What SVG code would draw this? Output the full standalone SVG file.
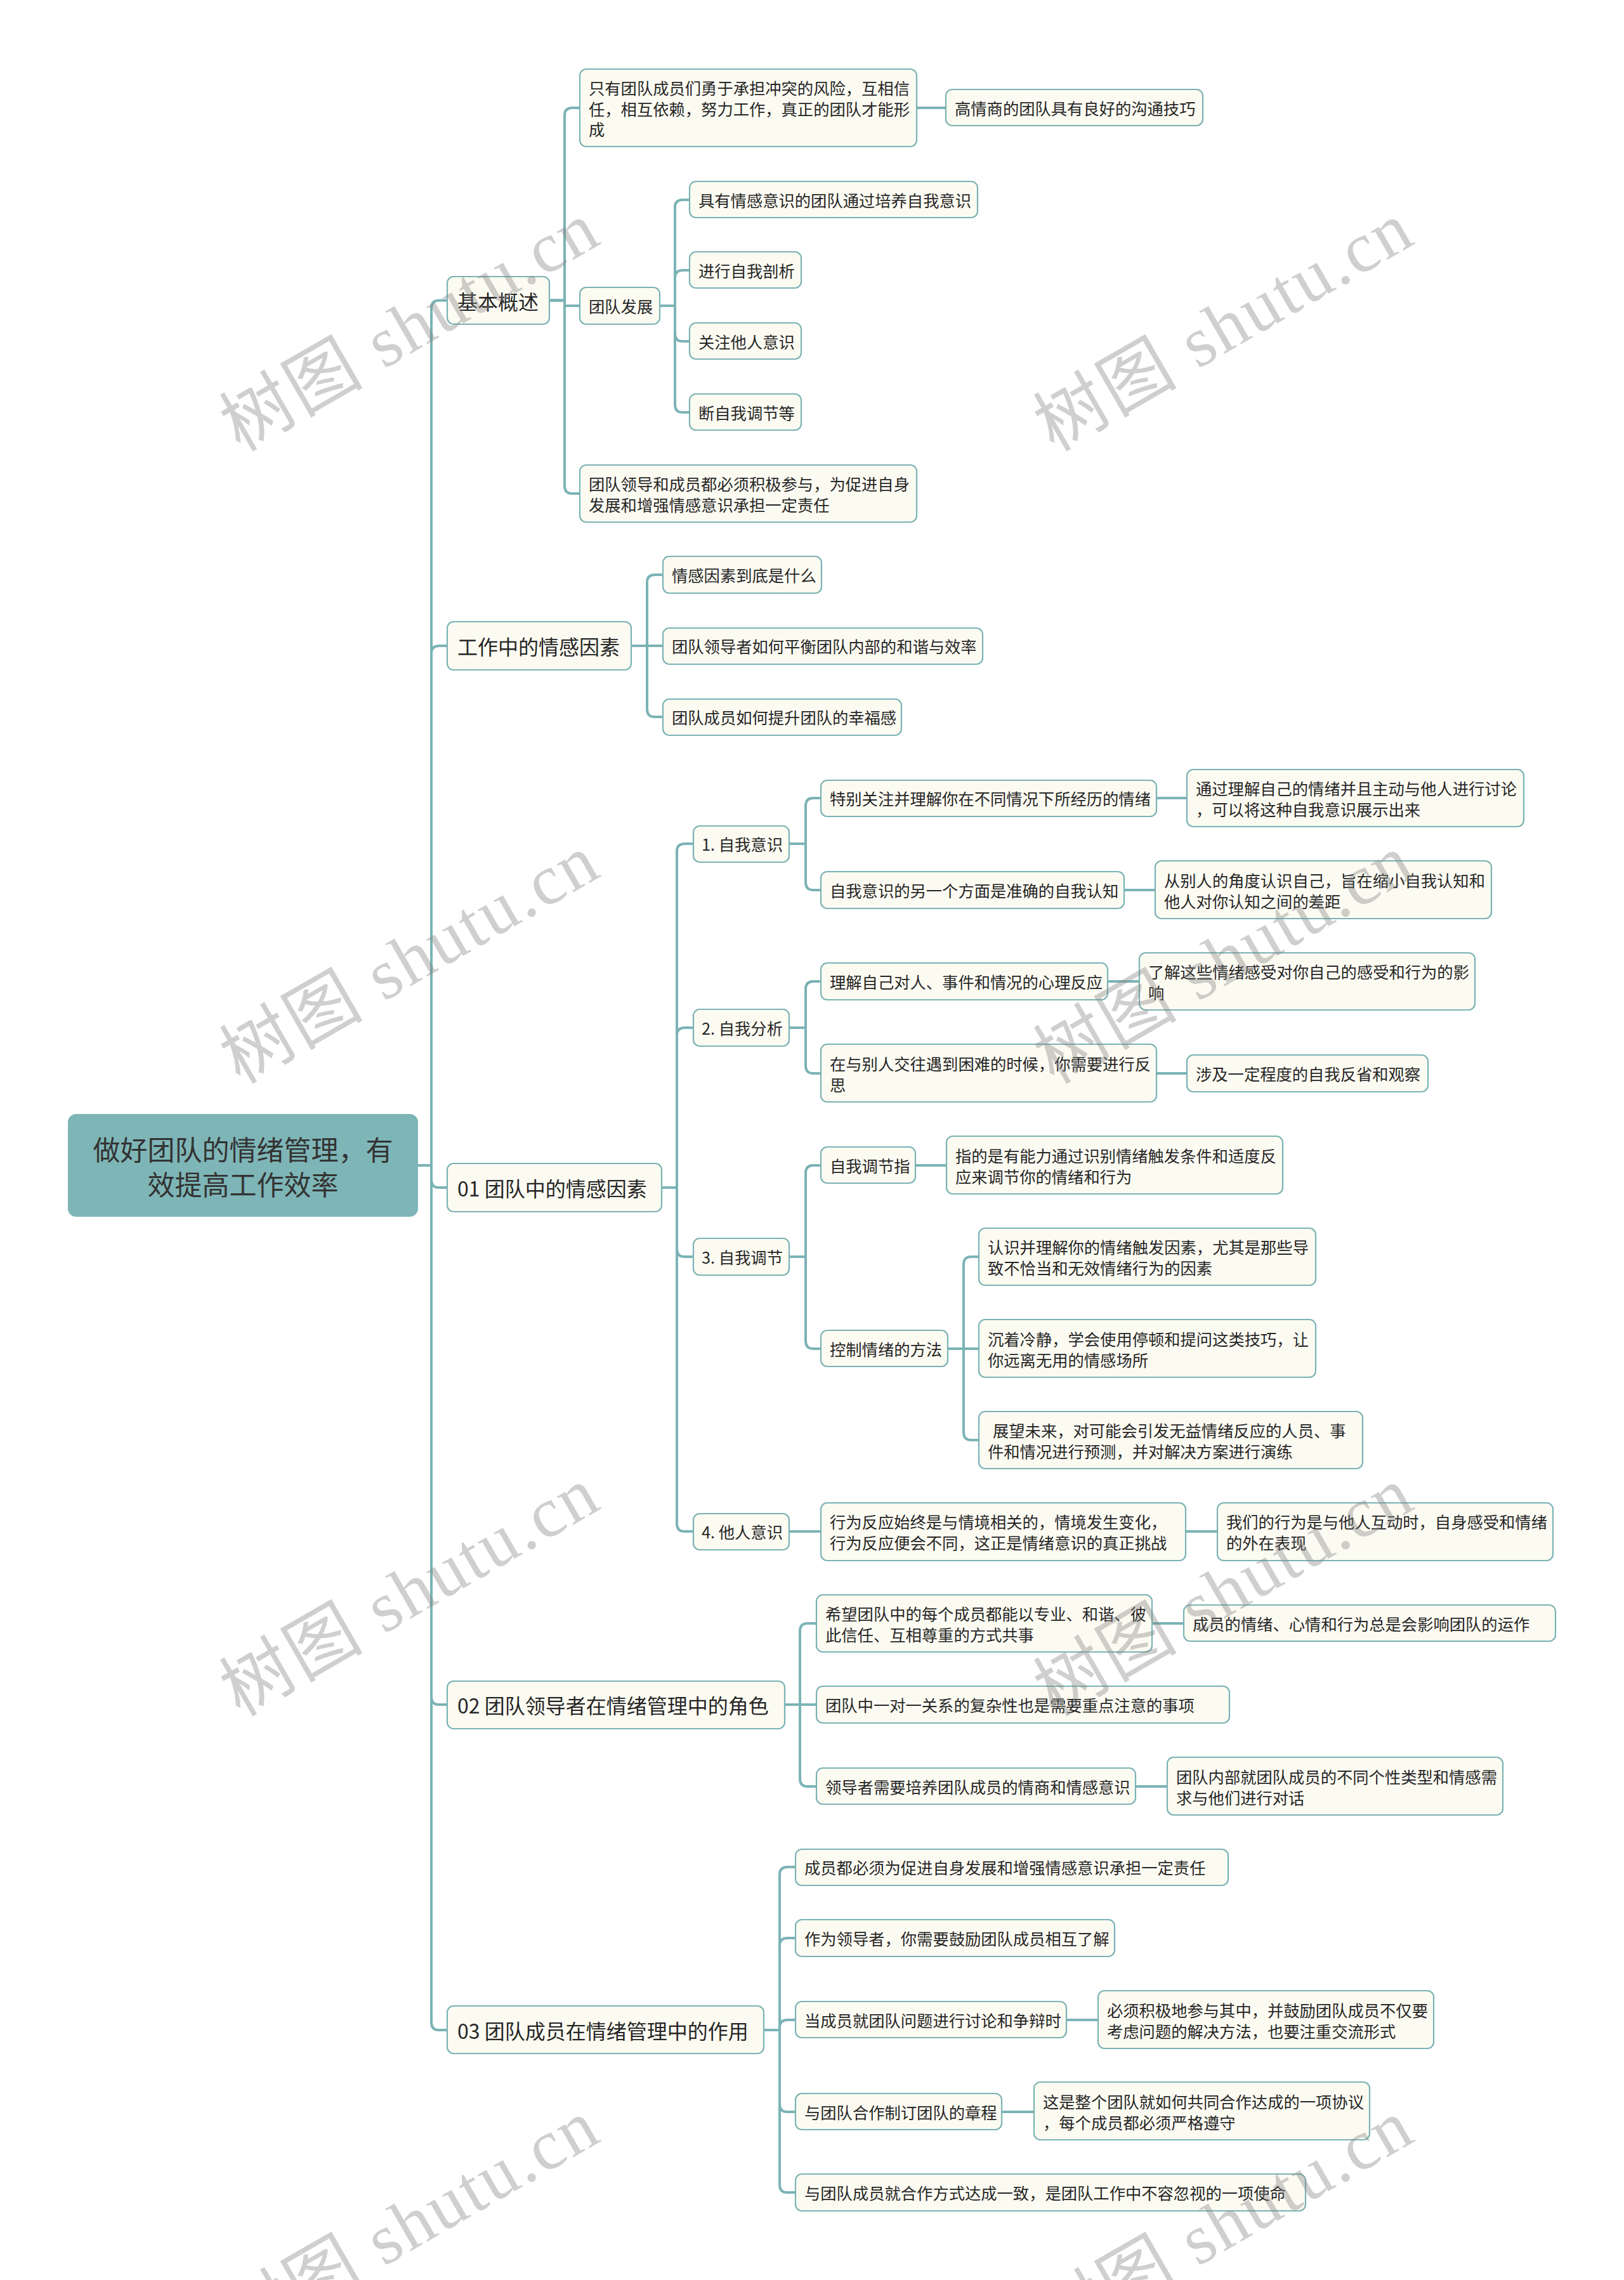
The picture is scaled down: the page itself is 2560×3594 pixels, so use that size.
<svg xmlns="http://www.w3.org/2000/svg" width="2560" height="3594" viewBox="0 0 2560 3594">
<style>
.bg{fill:#ffffff}
.n rect{fill:#fcfbf2;stroke:#7bb3b5;stroke-width:2.2}
.root rect{fill:#7eb5b7;stroke:#7eb5b7;stroke-width:2}
.t{font-family:"Noto Sans CJK SC","Liberation Sans",sans-serif;font-size:25.3px;fill:#262626;dominant-baseline:central}
.l1{font-size:32px}
.rt{font-size:43px;fill:#333333;text-anchor:middle}
.conn path{fill:none;stroke:#7bb3b5;stroke-width:4;stroke-linecap:round}
.wm{font-family:"Liberation Serif","Noto Sans CJK SC",serif;font-size:112px;fill:#808080;fill-opacity:0.38;text-anchor:middle;dominant-baseline:central}
</style>
<rect class="bg" x="0" y="0" width="2560" height="3594"/>

<g id="connectors" class="conn">
  <path d="M658,1837 H680"/>
  <path d="M658,1837 H680 V485.5 Q680,473.5 692,473.5 H705"/>
  <path d="M658,1837 H680 V1030 Q680,1018 692,1018 H705"/>
  <path d="M658,1837 H680 V1860 Q680,1872 692,1872 H705"/>
  <path d="M658,1837 H680 V2675 Q680,2687 692,2687 H705"/>
  <path d="M658,1837 H680 V3188 Q680,3200 692,3200 H705"/>
  <path d="M866,473.5 H890 V182 Q890,170 902,170 H914"/>
  <path d="M866,473.5 H890 V482 H914"/>
  <path d="M866,473.5 H890 V766 Q890,778 902,778 H914"/>
  <path d="M1445,170 H1491"/>
  <path d="M1040,482 H1064 V327 Q1064,315 1076,315 H1087"/>
  <path d="M1040,482 H1064 V438 Q1064,426 1076,426 H1087"/>
  <path d="M1040,482 H1064 V526 Q1064,538 1076,538 H1087"/>
  <path d="M1040,482 H1064 V638 Q1064,650 1076,650 H1087"/>
  <path d="M995,1018 H1020 V918 Q1020,906 1032,906 H1045"/>
  <path d="M995,1018 H1045"/>
  <path d="M995,1018 H1020 V1118 Q1020,1130 1032,1130 H1045"/>
  <path d="M1043,1872 H1067 V1342 Q1067,1330 1079,1330 H1093"/>
  <path d="M1043,1872 H1067 V1632 Q1067,1620 1079,1620 H1093"/>
  <path d="M1043,1872 H1067 V1969 Q1067,1981 1079,1981 H1093"/>
  <path d="M1043,1872 H1067 V2402 Q1067,2414 1079,2414 H1093"/>
  <path d="M1244,1330 H1270 V1270 Q1270,1258 1282,1258 H1294"/>
  <path d="M1244,1330 H1270 V1391 Q1270,1403 1282,1403 H1294"/>
  <path d="M1823,1258 H1871"/>
  <path d="M1772,1403 H1821"/>
  <path d="M1244,1620 H1270 V1559 Q1270,1547 1282,1547 H1294"/>
  <path d="M1244,1620 H1270 V1680 Q1270,1692 1282,1692 H1294"/>
  <path d="M1746,1547 H1796"/>
  <path d="M1823,1692 H1871"/>
  <path d="M1244,1981 H1270 V1849 Q1270,1837 1282,1837 H1294"/>
  <path d="M1244,1981 H1270 V2114 Q1270,2126 1282,2126 H1294"/>
  <path d="M1443,1837 H1492"/>
  <path d="M1494,2126 H1519 V1993 Q1519,1981 1531,1981 H1543"/>
  <path d="M1494,2126 H1543"/>
  <path d="M1494,2126 H1519 V2258 Q1519,2270 1531,2270 H1543"/>
  <path d="M1244,2414 H1294"/>
  <path d="M1869,2414 H1919"/>
  <path d="M1237,2687 H1261 V2571 Q1261,2559 1273,2559 H1287"/>
  <path d="M1237,2687 H1287"/>
  <path d="M1237,2687 H1261 V2804 Q1261,2816 1273,2816 H1287"/>
  <path d="M1816,2559 H1866"/>
  <path d="M1790,2816 H1840"/>
  <path d="M1204,3200 H1229 V2955 Q1229,2943 1241,2943 H1254"/>
  <path d="M1204,3200 H1229 V3067 Q1229,3055 1241,3055 H1254"/>
  <path d="M1204,3200 H1229 V3196 Q1229,3184 1241,3184 H1254"/>
  <path d="M1204,3200 H1229 V3317 Q1229,3329 1241,3329 H1254"/>
  <path d="M1204,3200 H1229 V3444 Q1229,3456 1241,3456 H1254"/>
  <path d="M1681,3184 H1731"/>
  <path d="M1579,3329 H1630"/>
</g>

<g id="root" class="root"><rect x="108" y="1757" width="550" height="160" rx="12"/>
  <text class="t rt"><tspan x="383" y="1810">做好团队的情绪管理，有</tspan><tspan x="383" y="1865">效提高工作效率</tspan></text></g>

<g id="n-jbgs" class="n"><rect x="705" y="436" width="161" height="75" rx="10"/><text class="t l1" x="721" y="473.5">基本概述</text></g>
<g id="n-gzz" class="n"><rect x="705" y="980" width="290" height="76" rx="10"/><text class="t l1" x="721" y="1018">工作中的情感因素</text></g>
<g id="n-01" class="n"><rect x="705" y="1834" width="338" height="76" rx="10"/><text class="t l1" x="721" y="1872">01 团队中的情感因素</text></g>
<g id="n-02" class="n"><rect x="705" y="2650" width="532" height="75" rx="10"/><text class="t l1" x="721" y="2687">02 团队领导者在情绪管理中的角色</text></g>
<g id="n-03" class="n"><rect x="705" y="3162" width="499" height="75" rx="10"/><text class="t l1" x="721" y="3200">03 团队成员在情绪管理中的作用</text></g>

<g id="n-a" class="n"><rect x="914" y="109" width="531" height="122" rx="10"/><text class="t"><tspan x="928" y="138">只有团队成员们勇于承担冲突的风险，互相信</tspan><tspan x="928" y="171">任，相互依赖，努力工作，真正的团队才能形</tspan><tspan x="928" y="203">成</tspan></text></g>
<g id="n-a1" class="n"><rect x="1491" y="141" width="405" height="57" rx="10"/><text class="t" x="1505" y="170">高情商的团队具有良好的沟通技巧</text></g>
<g id="n-b" class="n"><rect x="914" y="453" width="126" height="58" rx="10"/><text class="t" x="928" y="482">团队发展</text></g>
<g id="n-b1" class="n"><rect x="1087" y="286" width="454" height="57" rx="10"/><text class="t" x="1101" y="315">具有情感意识的团队通过培养自我意识</text></g>
<g id="n-b2" class="n"><rect x="1087" y="397" width="176" height="57" rx="10"/><text class="t" x="1101" y="426">进行自我剖析</text></g>
<g id="n-b3" class="n"><rect x="1087" y="509" width="176" height="57" rx="10"/><text class="t" x="1101" y="538">关注他人意识</text></g>
<g id="n-b4" class="n"><rect x="1087" y="621" width="176" height="57" rx="10"/><text class="t" x="1101" y="650">断自我调节等</text></g>
<g id="n-c" class="n"><rect x="914" y="733" width="531" height="90" rx="10"/><text class="t"><tspan x="928" y="762">团队领导和成员都必须积极参与，为促进自身</tspan><tspan x="928" y="795">发展和增强情感意识承担一定责任</tspan></text></g>

<g id="n-d1" class="n"><rect x="1045" y="877" width="250" height="58" rx="10"/><text class="t" x="1059" y="906">情感因素到底是什么</text></g>
<g id="n-d2" class="n"><rect x="1045" y="990" width="504" height="57" rx="10"/><text class="t" x="1059" y="1018">团队领导者如何平衡团队内部的和谐与效率</text></g>
<g id="n-d3" class="n"><rect x="1045" y="1102" width="376" height="57" rx="10"/><text class="t" x="1059" y="1130">团队成员如何提升团队的幸福感</text></g>

<g id="n-e1" class="n"><rect x="1093" y="1302" width="151" height="57" rx="10"/><text class="t" x="1106" y="1330">1. 自我意识</text></g>
<g id="n-e2" class="n"><rect x="1093" y="1591" width="151" height="58" rx="10"/><text class="t" x="1106" y="1620">2. 自我分析</text></g>
<g id="n-e3" class="n"><rect x="1093" y="1952" width="151" height="58" rx="10"/><text class="t" x="1106" y="1981">3. 自我调节</text></g>
<g id="n-e4" class="n"><rect x="1093" y="2386" width="151" height="57" rx="10"/><text class="t" x="1106" y="2414">4. 他人意识</text></g>

<g id="n-f1" class="n"><rect x="1294" y="1230" width="529" height="57" rx="10"/><text class="t" x="1308" y="1258">特别关注并理解你在不同情况下所经历的情绪</text></g>
<g id="n-f1a" class="n"><rect x="1871" y="1213" width="531" height="90" rx="10"/><text class="t"><tspan x="1885" y="1242">通过理解自己的情绪并且主动与他人进行讨论</tspan><tspan x="1885" y="1275">，可以将这种自我意识展示出来</tspan></text></g>
<g id="n-f2" class="n"><rect x="1294" y="1374" width="478" height="58" rx="10"/><text class="t" x="1308" y="1403">自我意识的另一个方面是准确的自我认知</text></g>
<g id="n-f2a" class="n"><rect x="1821" y="1357" width="530" height="91" rx="10"/><text class="t"><tspan x="1835" y="1387">从别人的角度认识自己，旨在缩小自我认知和</tspan><tspan x="1835" y="1420">他人对你认知之间的差距</tspan></text></g>

<g id="n-g1" class="n"><rect x="1294" y="1518" width="452" height="58" rx="10"/><text class="t" x="1308" y="1547">理解自己对人、事件和情况的心理反应</text></g>
<g id="n-g1a" class="n"><rect x="1796" y="1502" width="529" height="90" rx="10"/><text class="t"><tspan x="1810" y="1531">了解这些情绪感受对你自己的感受和行为的影</tspan><tspan x="1810" y="1564">响</tspan></text></g>
<g id="n-g2" class="n"><rect x="1294" y="1646" width="529" height="91" rx="10"/><text class="t"><tspan x="1308" y="1676">在与别人交往遇到困难的时候，你需要进行反</tspan><tspan x="1308" y="1709">思</tspan></text></g>
<g id="n-g2a" class="n"><rect x="1871" y="1663" width="380" height="58" rx="10"/><text class="t" x="1885" y="1692">涉及一定程度的自我反省和观察</text></g>

<g id="n-h1" class="n"><rect x="1294" y="1808" width="149" height="57" rx="10"/><text class="t" x="1308" y="1837">自我调节指</text></g>
<g id="n-h1a" class="n"><rect x="1492" y="1791" width="530" height="91" rx="10"/><text class="t"><tspan x="1506" y="1821">指的是有能力通过识别情绪触发条件和适度反</tspan><tspan x="1506" y="1854">应来调节你的情绪和行为</tspan></text></g>
<g id="n-h2" class="n"><rect x="1294" y="2097" width="200" height="57" rx="10"/><text class="t" x="1308" y="2126">控制情绪的方法</text></g>
<g id="n-h2a" class="n"><rect x="1543" y="1936" width="531" height="90" rx="10"/><text class="t"><tspan x="1557" y="1965">认识并理解你的情绪触发因素，尤其是那些导</tspan><tspan x="1557" y="1998">致不恰当和无效情绪行为的因素</tspan></text></g>
<g id="n-h2b" class="n"><rect x="1543" y="2080" width="531" height="91" rx="10"/><text class="t"><tspan x="1557" y="2110">沉着冷静，学会使用停顿和提问这类技巧，让</tspan><tspan x="1557" y="2143">你远离无用的情感场所</tspan></text></g>
<g id="n-h2c" class="n"><rect x="1543" y="2225" width="605" height="90" rx="10"/><text class="t"><tspan x="1565" y="2254">展望未来，对可能会引发无益情绪反应的人员、事</tspan><tspan x="1557" y="2287">件和情况进行预测，并对解决方案进行演练</tspan></text></g>

<g id="n-i1" class="n"><rect x="1294" y="2369" width="575" height="91" rx="10"/><text class="t"><tspan x="1308" y="2398">行为反应始终是与情境相关的，情境发生变化，</tspan><tspan x="1308" y="2431">行为反应便会不同，这正是情绪意识的真正挑战</tspan></text></g>
<g id="n-i1a" class="n"><rect x="1919" y="2369" width="529" height="91" rx="10"/><text class="t"><tspan x="1933" y="2398">我们的行为是与他人互动时，自身感受和情绪</tspan><tspan x="1933" y="2431">的外在表现</tspan></text></g>

<g id="n-j1" class="n"><rect x="1287" y="2514" width="529" height="90" rx="10"/><text class="t"><tspan x="1301" y="2543">希望团队中的每个成员都能以专业、和谐、彼</tspan><tspan x="1301" y="2576">此信任、互相尊重的方式共事</tspan></text></g>
<g id="n-j1a" class="n"><rect x="1866" y="2530" width="586" height="57" rx="10"/><text class="t" x="1880" y="2559">成员的情绪、心情和行为总是会影响团队的运作</text></g>
<g id="n-j2" class="n"><rect x="1287" y="2658" width="651" height="58" rx="10"/><text class="t" x="1301" y="2687">团队中一对一关系的复杂性也是需要重点注意的事项</text></g>
<g id="n-j3" class="n"><rect x="1287" y="2787" width="503" height="57" rx="10"/><text class="t" x="1301" y="2816">领导者需要培养团队成员的情商和情感意识</text></g>
<g id="n-j3a" class="n"><rect x="1840" y="2770" width="529" height="91" rx="10"/><text class="t"><tspan x="1854" y="2800">团队内部就团队成员的不同个性类型和情感需</tspan><tspan x="1854" y="2833">求与他们进行对话</tspan></text></g>

<g id="n-k1" class="n"><rect x="1254" y="2915" width="682" height="57" rx="10"/><text class="t" x="1268" y="2943">成员都必须为促进自身发展和增强情感意识承担一定责任</text></g>
<g id="n-k2" class="n"><rect x="1254" y="3026" width="503" height="58" rx="10"/><text class="t" x="1268" y="3055">作为领导者，你需要鼓励团队成员相互了解</text></g>
<g id="n-k3" class="n"><rect x="1254" y="3155" width="427" height="57" rx="10"/><text class="t" x="1268" y="3184">当成员就团队问题进行讨论和争辩时</text></g>
<g id="n-k3a" class="n"><rect x="1731" y="3138" width="529" height="91" rx="10"/><text class="t"><tspan x="1745" y="3168">必须积极地参与其中，并鼓励团队成员不仅要</tspan><tspan x="1745" y="3201">考虑问题的解决方法，也要注重交流形式</tspan></text></g>
<g id="n-k4" class="n"><rect x="1254" y="3300" width="325" height="57" rx="10"/><text class="t" x="1268" y="3329">与团队合作制订团队的章程</text></g>
<g id="n-k4a" class="n"><rect x="1630" y="3282" width="529" height="91" rx="10"/><text class="t"><tspan x="1644" y="3312">这是整个团队就如何共同合作达成的一项协议</tspan><tspan x="1644" y="3345">，每个成员都必须严格遵守</tspan></text></g>
<g id="n-k5" class="n"><rect x="1254" y="3427" width="804" height="58" rx="10"/><text class="t" x="1268" y="3456">与团队成员就合作方式达成一致，是团队工作中不容忽视的一项使命</text></g>

<g id="watermarks">
  <text class="wm" transform="translate(645,515) rotate(-30)" textLength="660" lengthAdjust="spacing">树图 shutu.cn</text>
  <text class="wm" transform="translate(1928,515) rotate(-30)" textLength="660" lengthAdjust="spacing">树图 shutu.cn</text>
  <text class="wm" transform="translate(645,1512) rotate(-30)" textLength="660" lengthAdjust="spacing">树图 shutu.cn</text>
  <text class="wm" transform="translate(1928,1512) rotate(-30)" textLength="660" lengthAdjust="spacing">树图 shutu.cn</text>
  <text class="wm" transform="translate(645,2509) rotate(-30)" textLength="660" lengthAdjust="spacing">树图 shutu.cn</text>
  <text class="wm" transform="translate(1928,2509) rotate(-30)" textLength="660" lengthAdjust="spacing">树图 shutu.cn</text>
  <text class="wm" transform="translate(645,3506) rotate(-30)" textLength="660" lengthAdjust="spacing">树图 shutu.cn</text>
  <text class="wm" transform="translate(1928,3506) rotate(-30)" textLength="660" lengthAdjust="spacing">树图 shutu.cn</text>
</g>
</svg>
